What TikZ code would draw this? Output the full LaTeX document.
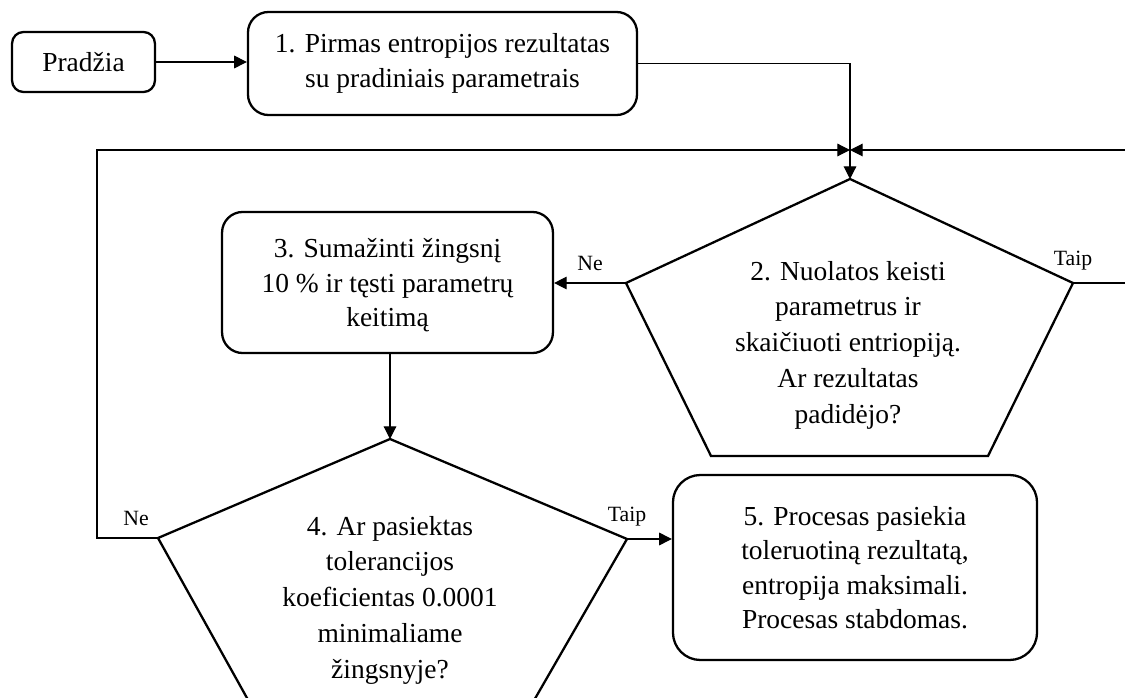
\documentclass[tikz,border=0pt]{standalone}
\usepackage{fontspec}
\setmainfont{Liberation Serif}
\usetikzlibrary{arrows.meta}

\begin{document}
\begin{tikzpicture}[x=0.4367pt,y=-0.4367pt,
  font=\fontsize{12}{15}\selectfont,
  box/.style={draw,line width=1pt,rounded corners=9pt,align=center,inner sep=0pt},
  dectext/.style={align=center,font=\fontsize{12}{15.6}\selectfont},
  lbl/.style={font=\fontsize{9.5}{11}\selectfont,above=2pt},
  flow/.style={line width=0.5pt,-{Triangle[length=5.5pt,width=5.5pt]}},
  pentline/.style={line width=1pt,line join=miter}]
\useasboundingbox (0,0) rectangle (1125,698);
\clip (0,0) rectangle (1125,698);
\node [box,rounded corners=5pt,minimum width=62.4pt,minimum height=26.2pt] (start) at (83.5,62) {Pradžia};
\node [box,minimum width=169.9pt,minimum height=45pt] (n1) at (442.5,63.5)
  {1. Pirmas entropijos rezultatas\\su pradiniais parametrais};
\node [dectext] (n2) at (848,345)
  {2. Nuolatos keisti\\parametrus ir\\skaičiuoti entriopiją.\\Ar rezultatas\\padidėjo?};
\coordinate (n2t) at (850,179);
\coordinate (n2r) at (1073,283);
\coordinate (n2br) at (988,456);
\coordinate (n2bl) at (711,456);
\coordinate (n2l) at (626,283);
\draw [pentline] (n2t) -- (n2r) -- (n2br) -- (n2bl) -- (n2l) -- cycle;
\node [box,minimum width=144.5pt,minimum height=61.6pt,text depth=-10pt] (n3) at (387.5,282.5)
  {3. Sumažinti žingsnį\\10 \% ir tęsti parametrų\\keitimą};
\node [dectext] (n4) at (390,600)
  {4. Ar pasiektas\\tolerancijos\\koeficientas 0.0001\\minimaliame\\žingsnyje?};
\coordinate (n4t) at (390,439);
\coordinate (n4r) at (627,539);
\coordinate (n4br) at (525,716);
\coordinate (n4bl) at (257,716);
\coordinate (n4l) at (158,538);
\draw [pentline] (n4t) -- (n4r) -- (n4br) -- (n4bl) -- (n4l) -- cycle;
\node [box,rounded corners=12pt,minimum width=159pt,minimum height=80.8pt] (n5) at (855,567.5)
  {5. Procesas pasiekia\\toleruotiną rezultatą,\\entropija maksimali.\\Procesas stabdomas.};
\coordinate (merge) at (850,150);
\coordinate (loopl) at (97,150);
\coordinate (loopr) at (1140,150);
\draw [flow] (start.east) -- (start.east -| n1.west);
\draw [flow] (n1.east) -| (n2t);
\draw [flow] (n2l) -- (n2l -| n3.east) node [lbl,midway] {Ne};
\draw [flow] (n2r) -| (loopr) node [lbl,pos=0] {Taip} -- (merge);
\draw [flow] (n4t |- n3.south) -- (n4t);
\draw [flow] (n4l) -| (loopl) node [lbl,pos=0.18] {Ne} -- (merge);
\draw [flow] (n4r) -- (n4r -| n5.west) node [lbl,pos=0] {Taip};
\end{tikzpicture}
\end{document}
